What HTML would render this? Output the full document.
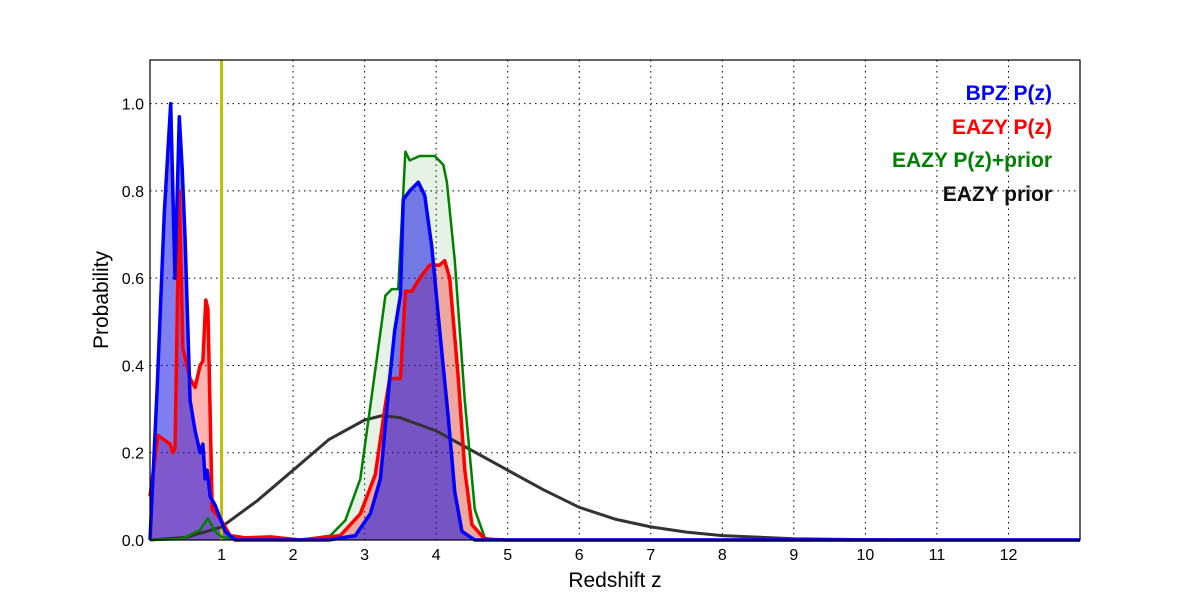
<!DOCTYPE html>
<html><head><meta charset="utf-8"><style>
body{margin:0;background:#fff;width:1200px;height:600px;overflow:hidden}
text{font-family:"Liberation Sans","DejaVu Sans",sans-serif}
</style></head><body>
<svg id="chart" width="1200" height="600" xmlns="http://www.w3.org/2000/svg">
<rect x="0" y="0" width="1200" height="600" fill="#fff"/>
<g id="grid"></g>
<g id="fills"></g>
<g id="lines"></g>
<rect x="150" y="60" width="930" height="480" fill="none" stroke="#000" stroke-width="1.2"/>
<g id="ticks"></g>
<text x="615" y="587" font-size="21" text-anchor="middle">Redshift z</text>
<text x="108" y="300" font-size="21" text-anchor="middle" transform="rotate(-90 108 300)">Probability</text>
<g font-weight="bold" font-size="21" text-anchor="end">
<text x="1052" y="100" fill="#0000ff">BPZ P(z)</text>
<text x="1052" y="134" fill="#ff0000">EAZY P(z)</text>
<text x="1052" y="167" fill="#008000">EAZY P(z)+prior</text>
<text x="1052" y="201" fill="#111">EAZY prior</text>
</g>
</svg>
<script>
const xTicks=[1,2,3,4,5,6,7,8,9,10,11,12];
const yTicks=[0.0,0.2,0.4,0.6,0.8,1.0];
const specZ=1.0;
const bpzZ=[0,0.1,0.2,0.29,0.35,0.41,0.45,0.49,0.56,0.63,0.7,0.74,0.77,0.8,0.84,0.91,1.05,1.19,2.5,2.87,3.08,3.22,3.35,3.42,3.5,3.54,3.63,3.75,3.84,3.94,4.05,4.17,4.26,4.36,4.54,13];
const bpzP=[0,0.35,0.75,1.0,0.6,0.97,0.85,0.69,0.32,0.25,0.2,0.22,0.14,0.16,0.1,0.08,0.02,0,0,0.01,0.06,0.14,0.37,0.48,0.56,0.78,0.8,0.82,0.79,0.67,0.48,0.28,0.11,0.02,0,0];
const eazyZ=[0,0.11,0.28,0.32,0.35,0.41,0.46,0.56,0.63,0.7,0.74,0.78,0.81,0.87,0.98,1.12,1.33,1.68,2.1,2.66,2.94,3.15,3.29,3.35,3.5,3.57,3.66,3.77,3.91,4.05,4.12,4.19,4.31,4.4,4.5,4.68,5,13];
const eazyP=[0.1,0.24,0.22,0.2,0.21,0.8,0.44,0.37,0.35,0.4,0.41,0.55,0.53,0.07,0.05,0.01,0.005,0.007,0,0.01,0.06,0.15,0.31,0.37,0.37,0.57,0.57,0.6,0.63,0.63,0.64,0.6,0.37,0.16,0.035,0.002,0,0];
const combZ=[0,0.43,0.7,0.81,0.91,1.0,1.25,2.1,2.52,2.73,2.94,3.15,3.29,3.38,3.47,3.57,3.63,3.77,3.98,4.1,4.15,4.26,4.4,4.54,4.68,4.85,13];
const combP=[0,0.002,0.023,0.05,0.02,0.007,0.002,0,0.01,0.045,0.14,0.39,0.56,0.575,0.575,0.89,0.87,0.88,0.88,0.86,0.82,0.64,0.32,0.07,0.005,0,0];
const priorZ=[0,0.5,1,1.5,2,2.5,3,3.25,3.5,4,4.5,5,5.5,6,6.5,7,7.5,8,9,10,11,12,13];
const priorP=[0,0.006,0.03,0.09,0.16,0.23,0.275,0.285,0.28,0.25,0.205,0.16,0.115,0.075,0.048,0.03,0.018,0.01,0.003,0.001,0.0003,0,0];
const X=z=>150+z*930/13, Y=p=>540-p*480/1.1;
const NS='http://www.w3.org/2000/svg';
function mk(t,parent,attrs){const e=document.createElementNS(NS,t);for(const k in attrs)e.setAttribute(k,attrs[k]);document.getElementById(parent).appendChild(e);return e;}
const grid='grid',ticks='ticks';
xTicks.forEach(v=>{const g=mk('line',grid,{x1:X(v),x2:X(v),y1:60,y2:540,stroke:'#000','stroke-dasharray':'1.5,4','stroke-width':1});


const t=mk('text',ticks,{x:X(v),y:560,'font-size':16,'text-anchor':'middle'});t.textContent=v;

});
yTicks.forEach(v=>{const g=mk('line',grid,{x1:150,x2:1080,y1:Y(v),y2:Y(v),stroke:'#000','stroke-dasharray':'1.5,4','stroke-width':1});


const t=mk('text',ticks,{x:144,y:Y(v)+6,'font-size':16,'text-anchor':'end'});t.textContent=v.toFixed(1);

});
function pts(zs,ps){return zs.map((z,i)=>X(z).toFixed(1)+','+Y(ps[i]).toFixed(1)).join(' ');}
function area(zs,ps,fill,name){const d='M'+X(zs[0])+','+Y(0)+' L'+pts(zs,ps)+' L'+X(zs[zs.length-1])+','+Y(0)+'Z';
const e=mk('path','fills',{d:d,fill:fill});

}
area(combZ,combP,'rgba(0,128,0,0.1)','eazy-prior-combined-fill');
area(eazyZ,eazyP,'rgba(255,0,0,0.3)','eazy-fill');
area(bpzZ,bpzP,'rgba(0,0,230,0.5)','bpz-fill');
const sl=mk('line','lines',{x1:X(specZ),x2:X(specZ),y1:60,y2:540,stroke:'#bfbf00','stroke-width':3});


function line(zs,ps,col,w,name){const e=mk('polyline','lines',{points:pts(zs,ps),fill:'none',stroke:col,'stroke-width':w,'stroke-linejoin':'round'});

}
line(priorZ,priorP,'#333',3,'eazy-prior-line');
line(combZ,combP,'#008000',2.5,'eazy-prior-combined-line');
line(eazyZ,eazyP,'#ff0000',3.5,'eazy-line');
line(bpzZ,bpzP,'#0000ff',3.5,'bpz-line');
</script>
</body></html>
